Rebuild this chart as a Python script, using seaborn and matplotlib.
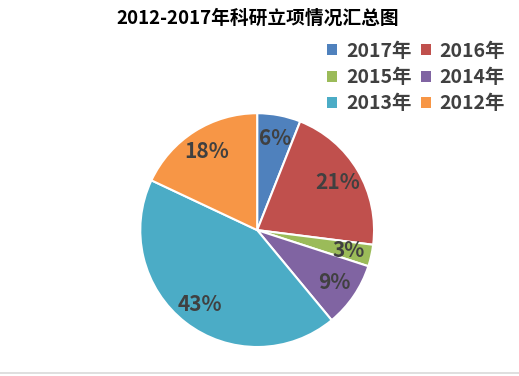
import matplotlib
matplotlib.use("Agg")
import matplotlib.pyplot as plt
from matplotlib.patches import Patch
from matplotlib.lines import Line2D
import seaborn as sns

# 数据
years = ["2017年", "2016年", "2015年", "2014年", "2013年", "2012年"]
shares = [6, 21, 3, 9, 43, 18]
colors = ["#4F81BD", "#C0504D", "#9BBB59", "#8064A2", "#4BACC6", "#F79646"]
title = "2012-2017年科研立项情况汇总图"

sns.set_theme(style="white")
plt.rcParams['font.family'] = ['Noto Sans CJK SC', 'DejaVu Sans']

fig = plt.figure(figsize=(5.19, 3.76), dpi=100)
ax = fig.add_axes([0.268, 0.074, 0.455, 0.628])

wedges, texts, autotexts = ax.pie(
    shares, colors=colors, startangle=90, counterclock=False,
    autopct="%d%%", pctdistance=0.8,
    wedgeprops=dict(edgecolor="white", linewidth=1.5),
    textprops=dict(fontsize=15, color="#404040", fontweight="bold"))
ax.set_xlim(-1.01, 1.01)
ax.set_ylim(-1.01, 1.01)
ax.set_aspect("equal")

fig.text(0.497, 0.952, title, ha="center", va="center",
         fontsize=13.5, fontweight="bold", color="black")

# 图例：两列，按行排列
order = [0, 2, 4, 1, 3, 5]
handles = [Patch(facecolor=colors[i], edgecolor="none") for i in order]
labels = [years[i] for i in order]
fig.legend(handles, labels, ncol=2, loc="upper left",
           bbox_to_anchor=(0.612, 0.915), frameon=False,
           prop=dict(size=14, weight="bold"),
           handlelength=0.5, handleheight=0.5,
           handletextpad=0.45, columnspacing=0.5, labelspacing=0.38,
           borderpad=0, labelcolor="#404040")

fig.add_artist(Line2D([0, 1], [0.009, 0.009], color="#d9d9d9", linewidth=1.2))

fig.savefig("out.png", dpi=100)
